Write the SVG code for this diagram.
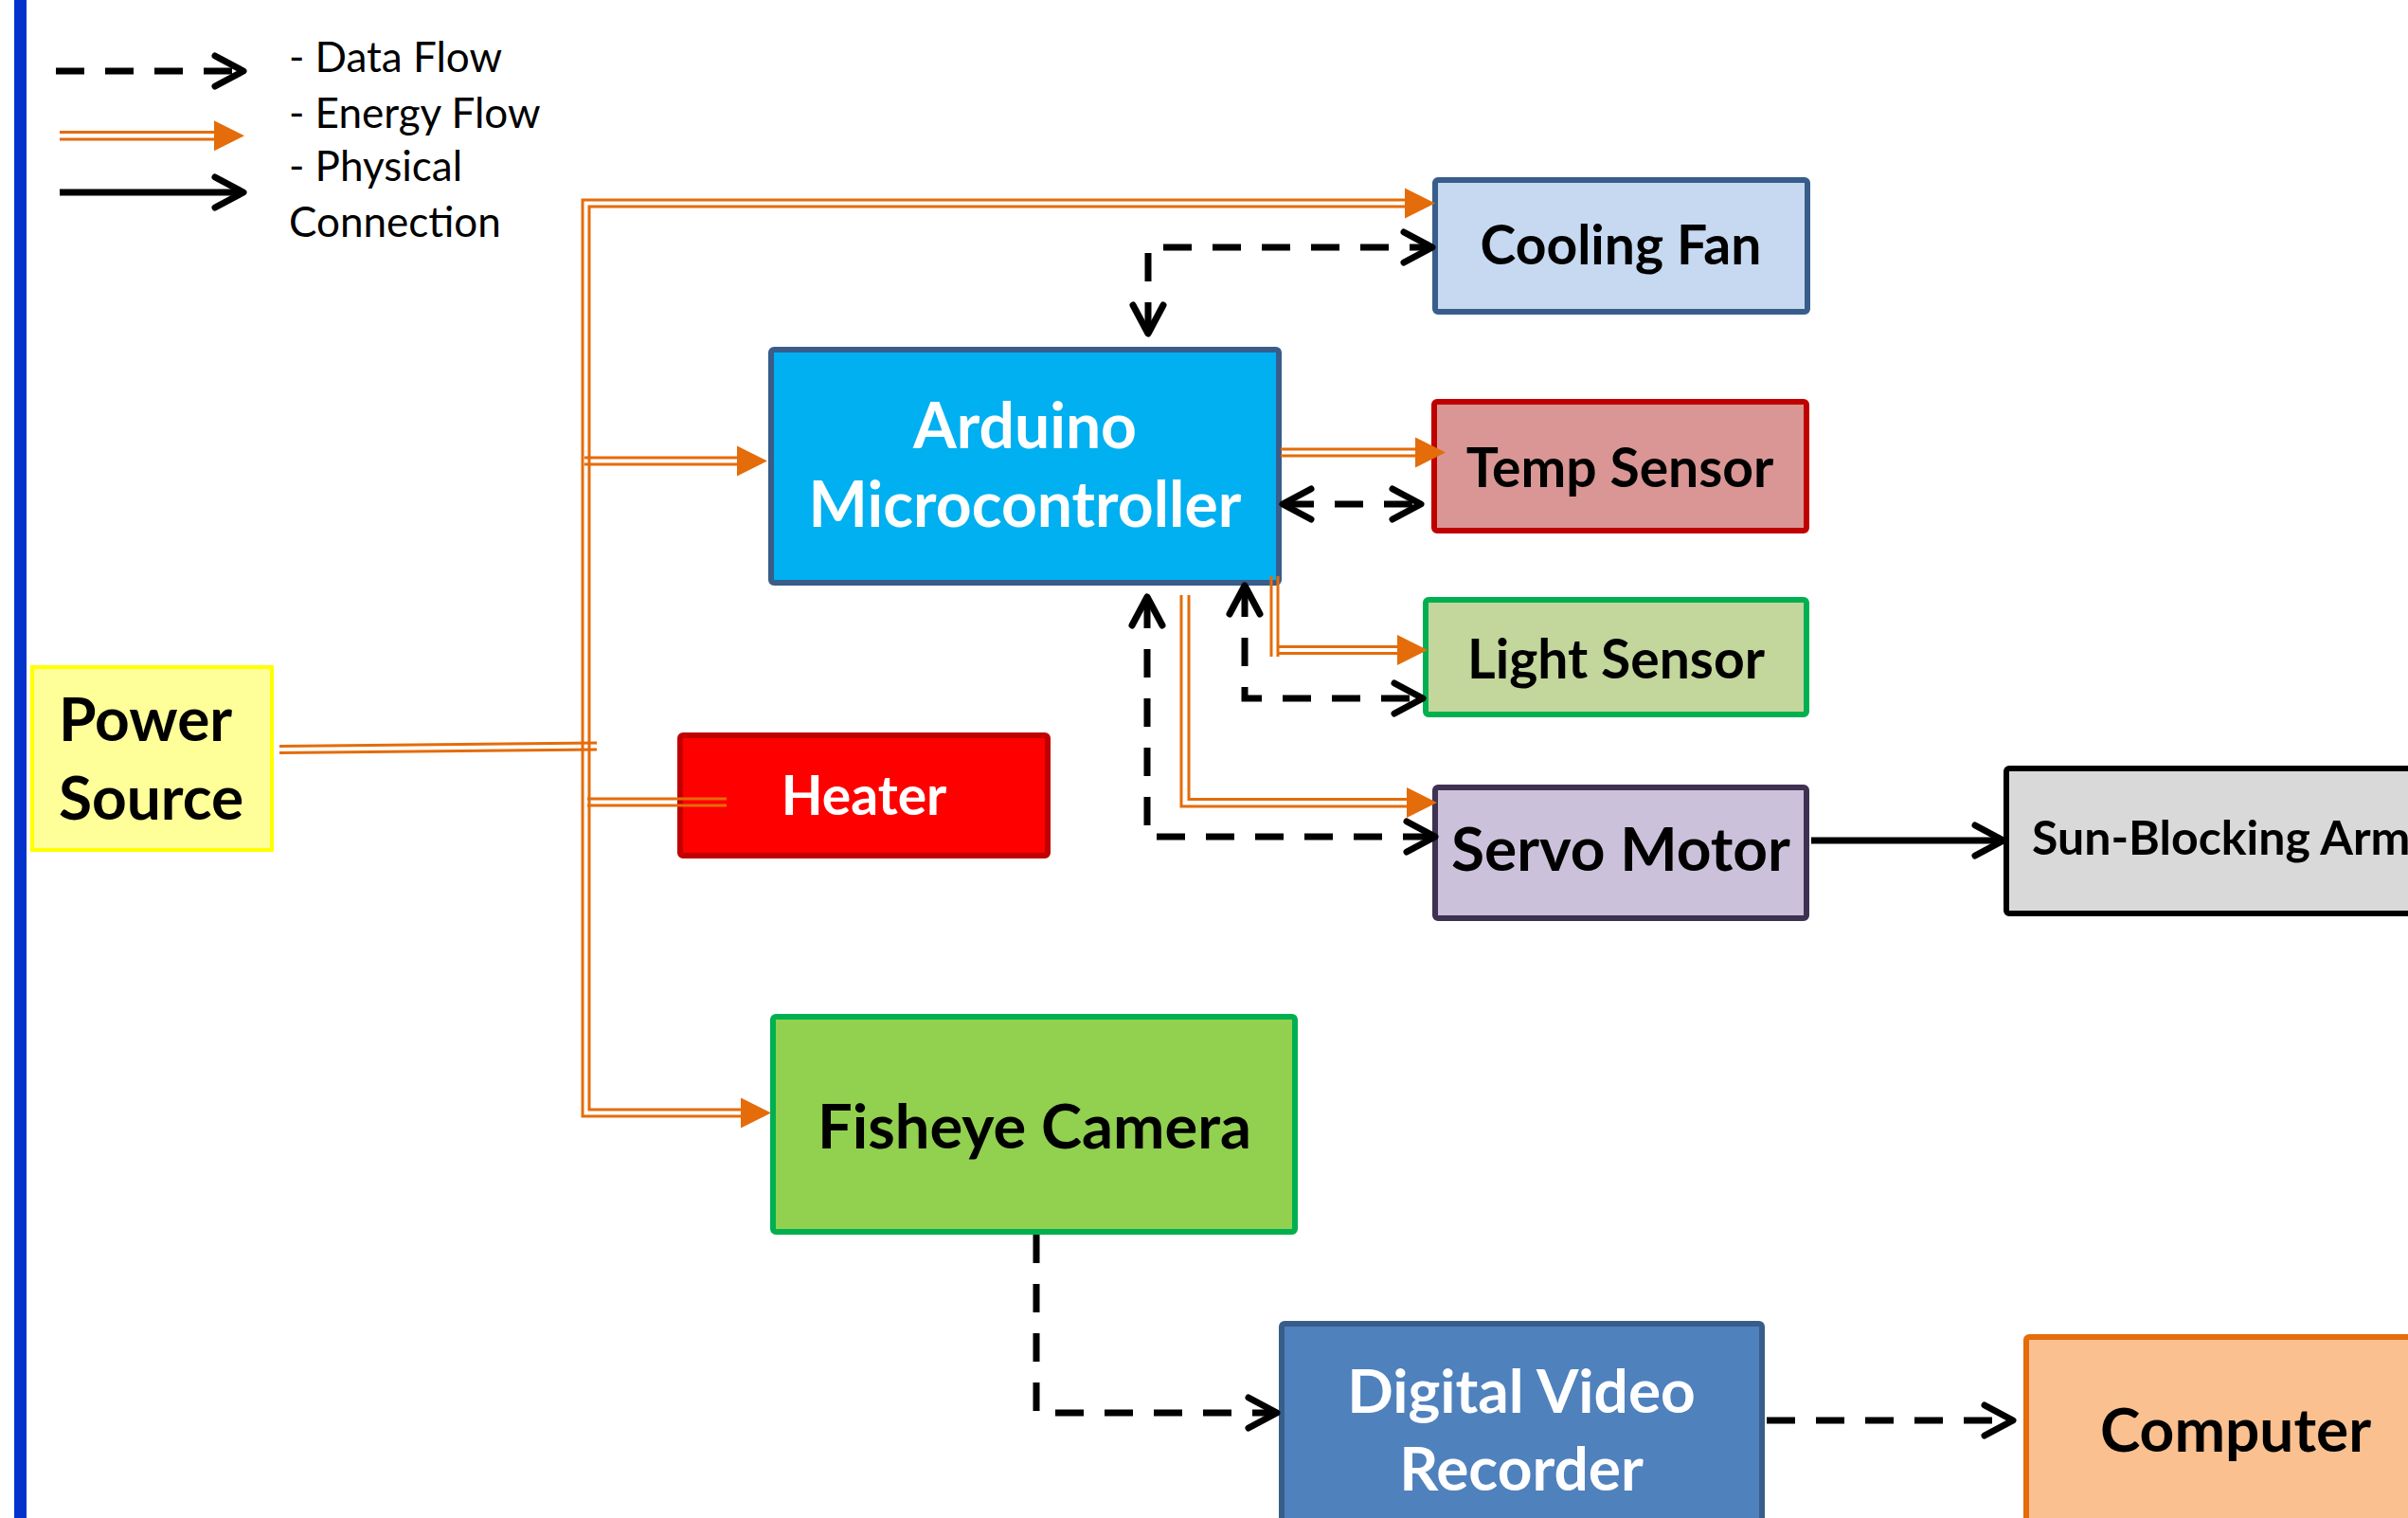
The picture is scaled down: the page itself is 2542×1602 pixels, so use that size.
<svg xmlns="http://www.w3.org/2000/svg" width="2542" height="1602" viewBox="0 0 2542 1602">
<style>
.box{stroke-width:6}
.t{font-family:Lato,"Open Sans","Liberation Sans",sans-serif;font-weight:bold;text-anchor:middle}
.leg{font-family:Lato,"Open Sans","Liberation Sans",sans-serif;font-size:44px;fill:#000}
.en{fill:none;stroke:#E46C0A;stroke-width:3}
.enc{fill:none;stroke:none;marker-end:url(#tri)}
.da{fill:none;stroke:#000;stroke-width:7;stroke-dasharray:30 22}
.ph{fill:none;stroke:#000;stroke-width:7}
</style>
<defs>
<marker id="chev" viewBox="-36 -22 44 44" refX="-3" refY="0" markerWidth="44" markerHeight="44" markerUnits="userSpaceOnUse" orient="auto-start-reverse" overflow="visible">
<path d="M-30,-16 L0,0 L-30,16" fill="none" stroke="#000" stroke-width="7" stroke-linecap="round" stroke-linejoin="round" stroke-dasharray="none"/>
</marker>
<marker id="tri" viewBox="-34 -18 36 36" refX="0" refY="0" markerWidth="36" markerHeight="36" markerUnits="userSpaceOnUse" orient="auto" overflow="visible">
<path d="M-32,-16 L0,0 L-32,16 Z" fill="#E46C0A"/>
</marker>
</defs>
<rect width="2542" height="1602" fill="#fff"/>
<rect x="15" y="0" width="13" height="1602" fill="#0433CC"/>

<g id="legend">
<path class="da" d="M59,75 H254" stroke-dasharray="29 23" marker-end="url(#chev)"/>
<path class="en" d="M63,139.5 H232"/>
<path class="en" d="M63,147 H232"/>
<path class="enc" d="M220,143.3 H258"/>
<path class="ph" d="M63,203 H254" marker-end="url(#chev)"/>
<text class="leg" x="305" y="76">- Data Flow</text>
<text class="leg" x="305" y="135">- Energy Flow</text>
<text class="leg" x="305" y="191">- Physical</text>
<text class="leg" x="305" y="250">Connection</text>
</g>

<g id="cooling-fan">
<rect class="box" x="1515" y="190" width="393" height="139" rx="3" fill="#C6D9F1" stroke="#385D8A"/>
<text class="t" x="1711" y="279" font-size="57">Cooling Fan</text>
</g>
<g id="arduino">
<rect class="box" x="814" y="369" width="536" height="246" rx="3" fill="#00B0F0" stroke="#385D8A"/>
<text class="t" x="1082" y="473" font-size="66" fill="#fff">Arduino</text>
<text class="t" x="1082" y="556" font-size="66" fill="#fff">Microcontroller</text>
</g>
<g id="temp-sensor">
<rect class="box" x="1514" y="424" width="393" height="136" rx="3" fill="#D99694" stroke="#C00000"/>
<text class="t" x="1710" y="514" font-size="57">Temp Sensor</text>
</g>
<g id="light-sensor">
<rect class="box" x="1505" y="633" width="402" height="121" rx="3" fill="#C3D69B" stroke="#00B050"/>
<text class="t" x="1706" y="716" font-size="57">Light Sensor</text>
</g>
<g id="servo-motor">
<rect class="box" x="1515" y="831" width="392" height="138" rx="3" fill="#CCC1DA" stroke="#3F3151"/>
<text class="t" x="1711" y="919" font-size="64">Servo Motor</text>
</g>
<g id="sun-blocking-arm">
<rect class="box" x="2118" y="811" width="480" height="153" rx="3" fill="#D9D9D9" stroke="#000"/>
<text class="t" x="2145" y="902" font-size="50" style="text-anchor:start">Sun-Blocking Arm</text>
</g>
<g id="power-source">
<rect x="34" y="704" width="253" height="193" fill="#FFFF99" stroke="#FFFF00" stroke-width="4"/>
<text class="t" x="62" y="782" font-size="64" style="text-anchor:start">Power</text>
<text class="t" x="62" y="865" font-size="64" style="text-anchor:start">Source</text>
</g>
<g id="heater">
<rect class="box" x="718" y="776" width="388" height="127" rx="3" fill="#FF0000" stroke="#C00000"/>
<text class="t" x="912" y="860" font-size="57" fill="#fff">Heater</text>
</g>
<g id="fisheye-camera">
<rect class="box" x="816" y="1073" width="551" height="227" rx="3" fill="#92D050" stroke="#00B050"/>
<text class="t" x="1092" y="1212" font-size="65">Fisheye Camera</text>
</g>
<g id="digital-video-recorder">
<rect class="box" x="1353" y="1397" width="507" height="240" rx="3" fill="#4F81BD" stroke="#385D8A"/>
<text class="t" x="1606" y="1491" font-size="64" fill="#fff">Digital Video</text>
<text class="t" x="1606" y="1573" font-size="64" fill="#fff">Recorder</text>
</g>
<g id="computer">
<rect class="box" x="2139" y="1411" width="443" height="230" rx="3" fill="#FAC090" stroke="#E46C0A"/>
<text class="t" x="2360" y="1532" font-size="64">Computer</text>
</g>

<g id="connectors">
<!-- energy trunk, top to fan, bottom to camera -->
<path class="en" d="M1488,211 H615 V1178 H786"/>
<path class="en" d="M1488,218 H622 V1171 H786"/>
<path class="enc" d="M1480,214.5 H1515"/>
<path class="enc" d="M780,1174.5 H814"/>
<!-- trunk to Arduino -->
<path class="en" d="M617,483 H784"/>
<path class="en" d="M617,490 H784"/>
<path class="enc" d="M775,486.5 H810"/>
<!-- trunk to heater -->
<path class="en" d="M620,843 H767"/>
<path class="en" d="M620,850 H767"/>
<!-- power source to trunk -->
<path class="en" d="M295,787.5 L630,784"/>
<path class="en" d="M295,794.5 L630,791"/>
<!-- Arduino to temp sensor -->
<path class="en" d="M1352,474 H1498"/>
<path class="en" d="M1352,481 H1498"/>
<path class="enc" d="M1490,477.5 H1526"/>
<!-- Arduino to light sensor -->
<path class="en" d="M1342,608 V693"/>
<path class="en" d="M1349,608 V693"/>
<path class="en" d="M1349,682.5 H1479"/>
<path class="en" d="M1349,689.5 H1479"/>
<path class="enc" d="M1470,686 H1507"/>
<!-- Arduino to servo -->
<path class="en" d="M1247,628 V851 H1488"/>
<path class="en" d="M1255,628 V843.5 H1488"/>
<path class="enc" d="M1480,847 H1517"/>

<!-- data flows -->
<path class="da" d="M1212,349 V261 H1509" marker-start="url(#chev)" marker-end="url(#chev)"/>
<path class="da" d="M1357,532 H1497" stroke-dasharray="26 20" marker-start="url(#chev)" marker-end="url(#chev)"/>
<path class="da" d="M1314,621 V737 H1499" marker-start="url(#chev)" marker-end="url(#chev)"/>
<path class="da" d="M1211,633 V883 H1512" marker-start="url(#chev)" marker-end="url(#chev)"/>
<path class="da" d="M1094,1303 V1491 H1345" marker-end="url(#chev)"/>
<path class="da" d="M1865,1499 H2122" marker-end="url(#chev)"/>

<!-- physical -->
<path class="ph" d="M1912,887 H2112" marker-end="url(#chev)"/>
</g>
</svg>
